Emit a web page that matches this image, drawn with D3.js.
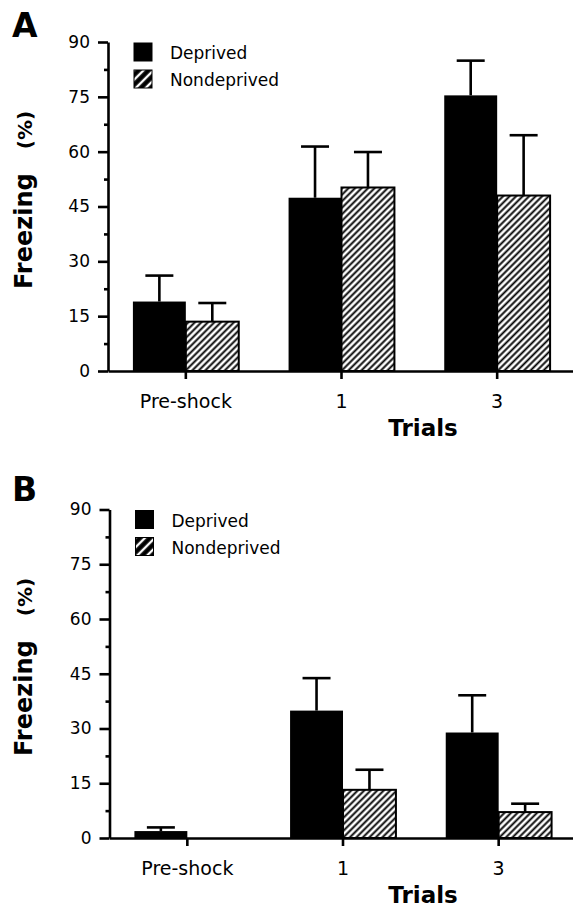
<!DOCTYPE html>
<html>
<head>
<meta charset="utf-8">
<script src="https://cdn.jsdelivr.net/npm/d3@7"></script>
<style>
	body { margin: 0; background: #fff; }
	svg { display: block; font-family: "DejaVu Sans", sans-serif; }
</style>
</head>
<body>
<script>
var categories = ["Pre-shock", "1", "3"];
var series = ["Deprived", "Nondeprived"];
var yTicks = [0, 15, 30, 45, 60, 75, 90];
var yMinorTicks = [7.5, 22.5, 37.5, 52.5, 67.5, 82.5];

// panel A
var deprivedA = [19, 47.4, 75.4];
var deprivedErrA = [7.1, 14, 9.5];
var nondeprivedA = [13.5, 50.2, 48];
var nondeprivedErrA = [5.1, 9.7, 16.5];

// panel B
var deprivedB = [1.9, 34.9, 28.9];
var deprivedErrB = [1, 8.9, 10.2];
var nondeprivedB = [0, 13.2, 7.1];
var nondeprivedErrB = [0, 5.5, 2.3];

var svg = d3.select("body").append("svg")
	.attr("width", 573)
	.attr("height", 910);

var defs = svg.append("defs");

function hatch(id, size, lineWidth) {
	var p = defs.append("pattern")
		.attr("id", id)
		.attr("patternUnits", "userSpaceOnUse")
		.attr("width", size)
		.attr("height", size)
		.attr("patternTransform", "rotate(45)");
	p.append("rect").attr("width", size).attr("height", size).attr("fill", "#fff");
	p.append("line")
		.attr("x1", size / 2).attr("x2", size / 2)
		.attr("y1", 0).attr("y2", size)
		.attr("stroke", "#000")
		.attr("stroke-width", lineWidth);
}
hatch("hatch", 4.6, 1.9);
hatch("hatchKey", 7, 4.6);

function drawPanel(p) {
	var g = svg.append("g");

	var y = d3.scaleLinear().domain([0, 90]).range([p.bottom, p.top]);
	var x = d3.scaleBand().domain(categories)
		.range([p.left, p.left + 467])
		.paddingInner(0.32)
		.paddingOuter(0.16);
	var xs = d3.scaleBand().domain(series).range([0, x.bandwidth()]);

	var rows = [];
	categories.forEach(function(c, i) {
		rows.push({cat: c, key: series[0], value: p.dep[i], err: p.depErr[i]});
		rows.push({cat: c, key: series[1], value: p.non[i], err: p.nonErr[i]});
	});

	var bars = rows.filter(function(d) { return d.value > 0; });

	g.selectAll("rect.bar")
		.data(bars)
		.enter()
		.append("rect")
		.attr("class", "bar")
		.attr("x", function(d) { return x(d.cat) + xs(d.key); })
		.attr("y", function(d) { return y(d.value); })
		.attr("width", xs.bandwidth())
		.attr("height", function(d) { return y(0) - y(d.value); })
		.attr("fill", function(d) { return d.key == series[0] ? "#000" : "url(#hatch)"; })
		.attr("stroke", function(d) { return d.key == series[0] ? "none" : "#000"; })
		.attr("stroke-width", 2);

	var errs = g.selectAll("g.err")
		.data(rows.filter(function(d) { return d.err > 0; }))
		.enter()
		.append("g")
		.attr("class", "err")
		.attr("transform", function(d) {
			return "translate(" + (x(d.cat) + xs(d.key) + xs.bandwidth() / 2) + ",0)";
		});
	errs.append("line")
		.attr("y1", function(d) { return y(d.value); })
		.attr("y2", function(d) { return y(d.value + d.err); })
		.attr("stroke", "#000")
		.attr("stroke-width", 2.6);
	errs.append("line")
		.attr("x1", -14).attr("x2", 14)
		.attr("y1", function(d) { return y(d.value + d.err); })
		.attr("y2", function(d) { return y(d.value + d.err); })
		.attr("stroke", "#000")
		.attr("stroke-width", 2.6);

	// axes
	var yAxis = g.append("g")
		.attr("class", "axis")
		.attr("transform", "translate(" + p.left + ",0)")
		.call(d3.axisLeft(y).tickValues(yTicks).tickSize(10).tickPadding(8).tickSizeOuter(0));
	yAxis.selectAll("text").attr("font-size", 17);

	g.append("g")
		.attr("class", "axis")
		.attr("transform", "translate(" + p.left + ",0)")
		.call(d3.axisLeft(y).tickValues(yMinorTicks).tickSize(4).tickSizeOuter(0).tickFormat(""))
		.select(".domain").remove();

	var xAxis = g.append("g")
		.attr("class", "axis")
		.attr("transform", "translate(0," + p.bottom + ")")
		.call(d3.axisBottom(x).tickSize(8).tickPadding(16).tickSizeOuter(0));
	xAxis.selectAll("text").attr("font-size", 19);

	g.selectAll(".axis path, .axis line")
		.attr("stroke", "#000")
		.attr("stroke-width", 2.6);
	g.selectAll(".axis text").attr("fill", "#000").attr("font-family", "DejaVu Sans");

	// axis titles
	g.append("text")
		.attr("transform", "translate(32," + (p.bottom - 82) + ") rotate(-90)")
		.attr("font-size", 24)
		.attr("font-weight", "bold")
		.text("Freezing");
	g.append("text")
		.attr("transform", "translate(32," + (p.bottom - 241) + ") rotate(-90)")
		.attr("text-anchor", "middle")
		.attr("font-size", 20)
		.attr("font-weight", "bold")
		.text("(%)");

	g.append("text")
		.attr("x", 423)
		.attr("y", p.bottom + 65)
		.attr("text-anchor", "middle")
		.attr("font-size", 23)
		.attr("font-weight", "bold")
		.text("Trials");

	// panel letter
	g.append("text")
		.attr("x", 12)
		.attr("y", p.labelY)
		.attr("font-size", 33)
		.attr("font-weight", "bold")
		.text(p.label);

	// legend
	var key = g.selectAll("g.key")
		.data(series)
		.enter()
		.append("g")
		.attr("class", "key")
		.attr("transform", function(d, i) {
			return "translate(" + (p.left + 26) + "," + (p.top + 1 + i * 27) + ")";
		});
	key.append("rect")
		.attr("width", 18)
		.attr("height", 18)
		.attr("fill", function(d, i) { return i == 0 ? "#000" : "url(#hatchKey)"; })
		.attr("stroke", "#000")
		.attr("stroke-width", 1);
	key.append("text")
		.attr("x", 36)
		.attr("y", 16)
		.attr("font-size", 17)
		.text(function(d) { return d; });
}

drawPanel({label: "A", labelY: 37, top: 42, bottom: 371, left: 108,
	dep: deprivedA, depErr: deprivedErrA, non: nondeprivedA, nonErr: nondeprivedErrA});
drawPanel({label: "B", labelY: 501, top: 509.5, bottom: 838, left: 109.5,
	dep: deprivedB, depErr: deprivedErrB, non: nondeprivedB, nonErr: nondeprivedErrB});
</script>
</body>
</html>
